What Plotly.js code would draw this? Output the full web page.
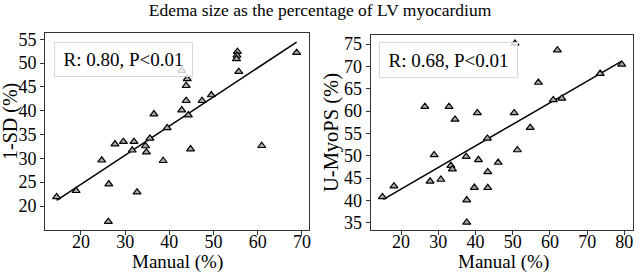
<!DOCTYPE html>
<html>
<head>
<meta charset="utf-8">
<script src="https://cdn.plot.ly/plotly-3.0.1.min.js"></script>
<style>html,body{margin:0;padding:0;background:#fff;}#chart{width:640px;height:275px;}</style>
</head>
<body>
<div id="chart"></div>
<script>
// Left panel: Manual vs 1-SD
const manualSD = [68.8, 55.4, 55.3, 55.2, 55.7, 42.8, 44.05, 43.8, 43.8, 42.8, 44.3, 47.4, 49.5, 36.5, 39.5, 35.6, 27.7, 29.6, 32.0, 31.6, 34.6, 34.8, 44.8, 60.9, 24.7, 38.6, 26.3, 32.7, 18.9, 14.5, 26.2];
const sdValues = [52.2, 52.4, 51.6, 50.9, 48.2, 48.4, 46.7, 45.25, 42.1, 40.15, 39.1, 42.1, 43.3, 39.3, 36.4, 34.2, 33.0, 33.5, 33.5, 31.7, 32.6, 31.3, 31.95, 32.65, 29.6, 29.5, 24.6, 22.9, 23.2, 21.9, 16.7];
const fitSDx = [14.5, 68.8];
const fitSDy = [21.2, 54.4];

// Right panel: Manual vs U-MyoPS
const manualU = [50.6, 62.0, 79.3, 73.5, 56.9, 60.9, 63.2, 26.4, 32.9, 34.5, 40.5, 50.4, 54.7, 43.2, 51.25, 28.9, 37.5, 40.8, 46.1, 33.4, 33.8, 27.8, 30.7, 43.3, 39.7, 43.3, 37.65, 37.65, 18.1, 15.0];
const uValues = [75.15, 73.65, 70.45, 68.4, 66.4, 62.5, 62.85, 61.0, 61.0, 58.15, 59.6, 59.6, 56.3, 53.9, 51.3, 50.2, 49.8, 49.1, 48.5, 47.8, 47.0, 44.3, 44.7, 46.4, 42.9, 42.85, 40.1, 35.1, 43.2, 40.8];
const fitUx = [15.25, 79.3];
const fitUy = [40.25, 71.2];

const xTicksL = [20, 30, 40, 50, 60, 70];
const yTicksL = [20, 25, 30, 35, 40, 45, 50, 55];
const xTicksR = [20, 30, 40, 50, 60, 70, 80];
const yTicksR = [35, 40, 45, 50, 55, 60, 65, 70, 75];

const chartTitle = "Edema size as the percentage of LV myocardium";
const xTitle = "Manual (%)";
const yTitleL = "1-SD (%)";
const yTitleR = "U-MyoPS (%)";
const statL = "R: 0.80, P<0.01";
const statR = "R: 0.68, P<0.01";

const FONT = '"Liberation Serif", "Times New Roman", serif';
const marker = {symbol: 'triangle-up', size: 7, color: '#a8a8a8', line: {color: '#000', width: 1.2}};

const traces = [
  {x: fitSDx, y: fitSDy, mode: 'lines', line: {color: '#000', width: 1.5}, xaxis: 'x', yaxis: 'y', hoverinfo: 'skip'},
  {x: manualSD, y: sdValues, mode: 'markers', marker: marker, xaxis: 'x', yaxis: 'y'},
  {x: fitUx, y: fitUy, mode: 'lines', line: {color: '#000', width: 1.5}, xaxis: 'x2', yaxis: 'y2', hoverinfo: 'skip'},
  {x: manualU, y: uValues, mode: 'markers', marker: marker, xaxis: 'x2', yaxis: 'y2'}
];

const axisBase = {
  showgrid: false, zeroline: false, showline: true, mirror: true,
  linecolor: '#333', linewidth: 1, ticks: 'outside', ticklen: 4, tickcolor: '#333',
  tickfont: {family: FONT, size: 18, color: '#000'}, tickmode: 'array'
};
const xBase = Object.assign({}, axisBase, {ticklabelstandoff: -9});

const layout = {
  width: 640, height: 275,
  margin: {l: 0, r: 0, t: 0, b: 0},
  paper_bgcolor: '#fff', plot_bgcolor: '#fff',
  showlegend: false,
  font: {family: FONT, color: '#000'},
  title: {text: chartTitle, font: {family: FONT, size: 17.5, color: '#000'}, x: 0.5, xanchor: 'center', y: 1 - 10/275, yanchor: 'middle'},
  xaxis: Object.assign({}, xBase, {domain: [45/640, 309/640], range: [11.86, 71.6], tickvals: xTicksL, anchor: 'y'}),
  yaxis: Object.assign({}, axisBase, {domain: [1 - 230/275, 1 - 33.3/275], range: [14.96, 56.26], tickvals: yTicksL, anchor: 'x'}),
  xaxis2: Object.assign({}, xBase, {domain: [370.7/640, 633.3/640], range: [11.85, 82.4], tickvals: xTicksR, anchor: 'y2'}),
  yaxis2: Object.assign({}, axisBase, {domain: [1 - 230/275, 1 - 34.7/275], range: [33.4, 77.1], tickvals: yTicksR, anchor: 'x2'}),
  annotations: [
    {text: statL, xref: 'paper', yref: 'paper', x: 123.5/640, y: 1 - 59.5/275, xanchor: 'center', yanchor: 'middle', showarrow: false,
     font: {family: FONT, size: 19, color: '#000'}, bgcolor: 'rgba(255,255,255,0.8)', bordercolor: '#d8d8d8', borderwidth: 1, width: 135, height: 31},
    {text: statR, xref: 'paper', yref: 'paper', x: 448.5/640, y: 1 - 60/275, xanchor: 'center', yanchor: 'middle', showarrow: false,
     font: {family: FONT, size: 19, color: '#000'}, bgcolor: 'rgba(255,255,255,0.8)', bordercolor: '#d8d8d8', borderwidth: 1, width: 135, height: 32},
    {text: xTitle, xref: 'paper', yref: 'paper', x: 177/640, y: 1 - 262/275, xanchor: 'center', yanchor: 'middle', showarrow: false,
     font: {family: FONT, size: 19, color: '#000'}},
    {text: xTitle, xref: 'paper', yref: 'paper', x: 503/640, y: 1 - 262/275, xanchor: 'center', yanchor: 'middle', showarrow: false,
     font: {family: FONT, size: 19, color: '#000'}},
    {text: yTitleL, xref: 'paper', yref: 'paper', x: 11/640, y: 1 - 122/275, xanchor: 'center', yanchor: 'middle', showarrow: false, textangle: -90,
     font: {family: FONT, size: 20, color: '#000'}},
    {text: yTitleR, xref: 'paper', yref: 'paper', x: 331/640, y: 1 - 133/275, xanchor: 'center', yanchor: 'middle', showarrow: false, textangle: -90,
     font: {family: FONT, size: 20.5, color: '#000'}}
  ]
};

Plotly.newPlot('chart', traces, layout, {staticPlot: true, displayModeBar: false});
</script>
</body>
</html>
